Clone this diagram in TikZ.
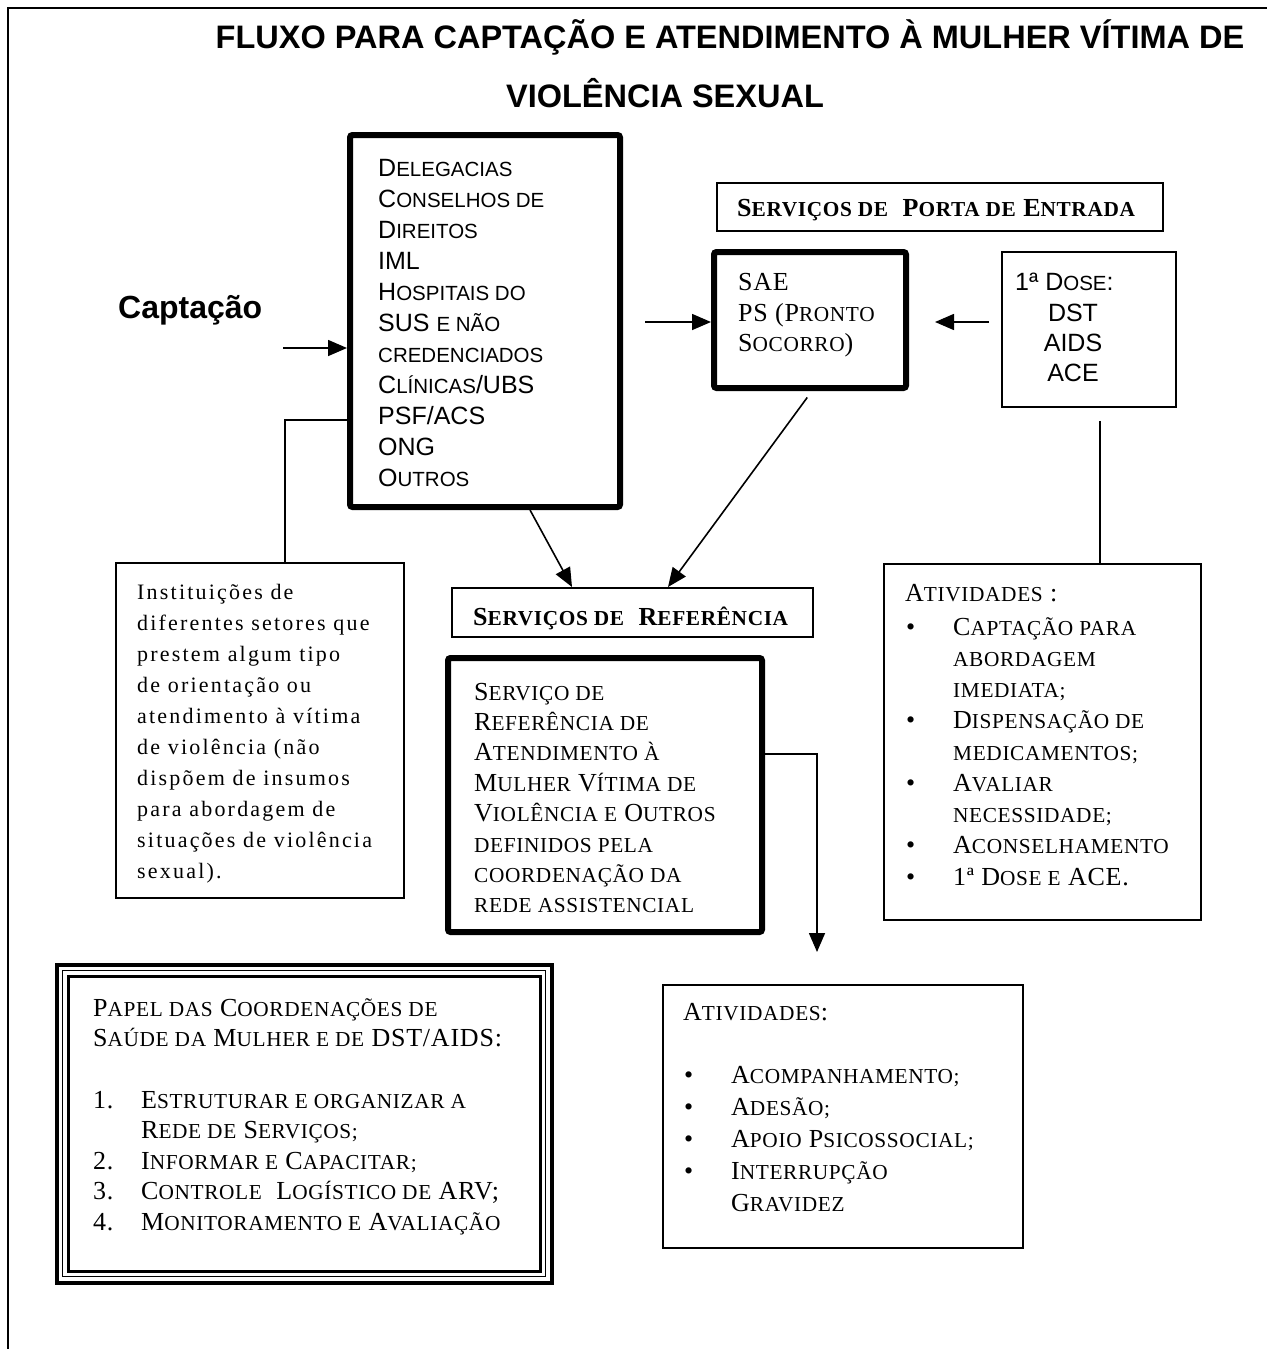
\documentclass[tikz,border=0pt]{standalone}
\usepackage{fontspec}
\setmainfont{Liberation Serif}[LetterSpace=3]
\newfontfamily\arialfont{Liberation Sans}
\newfontfamily\spacedserif[LetterSpace=10]{Liberation Serif}
\usetikzlibrary{arrows.meta}
\makeatletter
\newcommand\smc[1]{{\fontsize{\fpeval{0.82*\f@size}}{\f@baselineskip}\selectfont #1}}
\makeatother
\begin{document}
\begin{tikzpicture}[x=1pt,y=-1pt,
 thinbox/.style={draw,line width=1.8pt,inner sep=0pt,anchor=north west},
 thickbox/.style={draw,line width=6pt,rounded corners=2.5pt,inner sep=0pt,anchor=north west},
 conn/.style={line width=1.6pt},
 arr/.style={line width=1.6pt,-{Triangle[length=19pt,width=16pt]}},
 tx/.style={anchor=base west,inner sep=0pt,font=\fontsize{26}{30}\selectfont},
 txb/.style={anchor=base west,inner sep=0pt,font=\bfseries\fontsize{26}{30}\selectfont},
 sx/.style={anchor=base west,inner sep=0pt,font=\arialfont\fontsize{25}{30}\selectfont},
 sxc/.style={anchor=base,inner sep=0pt,font=\arialfont\fontsize{25}{30}\selectfont},
 hd/.style={anchor=base,inner sep=0pt,font=\arialfont\bfseries\fontsize{32.5}{32.5}\selectfont},
 lt/.style={anchor=base west,inner sep=0pt,font=\spacedserif\fontsize{22}{26}\selectfont},
]
\useasboundingbox (0,0) rectangle (1267,1349);
\fill[white] (0,0) rectangle (1267,1349);
\draw[line width=1.5pt] (8,1349) -- (8,8) -- (1267,8);

% titles
\node[hd] (t1) at (730,48) {FLUXO PARA CAPTAÇÃO E ATENDIMENTO À MULHER VÍTIMA DE};
\node[hd] (t2) at (665,107) {VIOLÊNCIA SEXUAL};
\node[anchor=base west,inner sep=0pt,font=\arialfont\bfseries\fontsize{32}{32}\selectfont] (cap) at (118,318) {Captação};

% boxes
\node[thickbox,minimum width=270pt,minimum height=372pt] (big) at (347,132) {};
\node[thinbox,minimum width=446pt,minimum height=48pt] (porta) at (716,182) {};
\node[thickbox,minimum width=192pt,minimum height=136pt] (sae) at (711,249) {};
\node[thinbox,minimum width=174pt,minimum height=155pt] (dose) at (1001,251) {};
\node[thinbox,minimum width=288pt,minimum height=335pt] (ltext) at (115,562) {};
\node[thinbox,minimum width=361pt,minimum height=49pt] (sref) at (451,587) {};
\node[thickbox,minimum width=314pt,minimum height=274pt] (ref) at (445,655) {};
\node[thinbox,minimum width=317pt,minimum height=356pt] (ativr) at (883,563) {};
\node[thinbox,minimum width=360pt,minimum height=263pt] (ativb) at (662,984) {};
\node[draw,line width=3.5pt,inner sep=0pt,anchor=north west,minimum width=495pt,minimum height=318pt] (papel) at (55,963) {};
\node[draw,line width=1.3pt,inner sep=0pt,minimum width=483pt,minimum height=306pt] (papelb) at (papel.center) {};
\node[draw,line width=2.8pt,inner sep=0pt,minimum width=472pt,minimum height=295pt] (papelc) at (papel.center) {};

% connectors
\coordinate (capin) at (283,348);
\draw[arr] (capin) -- (capin -| big.west);
\coordinate (lk) at (285,420);
\draw[conn] (big.west |- lk) -- (lk) -- (lk |- ltext.north);
\coordinate (b1) at (530,0);
\coordinate (b2) at (572,0);
\draw[arr] (big.south -| b1) -- (sref.north -| b2);
\coordinate (s1) at (812,0);
\coordinate (s2) at (668,0);
\draw[arr,shorten <=8pt] (sae.south -| s1) -- (sref.north -| s2);
\coordinate (sin) at (645,322);
\draw[arr] (sin) -- (sin -| sae.west);
\draw[arr,shorten <=12pt,shorten >=26pt] (dose.west |- sin) -- (sae.east |- sin);
\coordinate (dv) at (1100,0);
\draw[conn,shorten <=13pt] (dose.south -| dv) -- (ativr.north -| dv);
\coordinate (rk) at (817,754);
\draw[arr,shorten >=32pt] (ref.east |- rk) -- (rk) -- (rk |- ativb.north);

% big box text
\foreach \t [count=\i] in {D\smc{ELEGACIAS},C\smc{ONSELHOS DE},D\smc{IREITOS},IML,H\smc{OSPITAIS DO},SUS \smc{E NÃO},\smc{CREDENCIADOS},C\smc{LÍNICAS}/UBS,PSF/ACS,ONG,O\smc{UTROS}}
  \node[sx] (bx\i) at (378,{176+31*(\i-1)}) {\t};

% left text
\foreach \t [count=\i] in {Instituições de,diferentes setores que,prestem algum tipo,de orientação ou,atendimento à vítima,de violência (não,dispõem de insumos,para abordagem de,situações de violência,sexual).}
  \node[lt] (lx\i) at (137,{599+31*(\i-1)}) {\t};

% porta
\node[txb] (portat) at (737,216) {S\smc{ERVIÇOS DE}\ \ P\smc{ORTA DE} E\smc{NTRADA}};

% SAE
\node[tx] (sae1) at (738,290) {SAE};
\node[tx] (sae2) at (738,321) {PS (P\smc{RONTO}};
\node[tx] (sae3) at (738,351) {S\smc{OCORRO})};

% dose
\node[sx] (dose1) at (1015,290) {1ª D\smc{OSE}:};
\node[sxc] (dose2) at (1073,321) {DST};
\node[sxc] (dose3) at (1073,351) {AIDS};
\node[sxc] (dose4) at (1073,381) {ACE};

% servicos de referencia
\node[txb] (sreft) at (473,625) {S\smc{ERVIÇOS DE}\ \ R\smc{EFERÊNCIA}};

% referencia box
\foreach \t [count=\i] in {S\smc{ERVIÇO DE},R\smc{EFERÊNCIA DE},A\smc{TENDIMENTO À},M\smc{ULHER} V\smc{ÍTIMA DE},V\smc{IOLÊNCIA E} O\smc{UTROS},\smc{DEFINIDOS PELA},\smc{COORDENAÇÃO DA},\smc{REDE ASSISTENCIAL}}
  \node[tx] (rx\i) at (474,{700+30.4*(\i-1)}) {\t};

% atividades right
\node[tx] (ar0) at (905,601) {A\smc{TIVIDADES} :};
\foreach \t [count=\i] in {C\smc{APTAÇÃO PARA},\smc{ABORDAGEM},\smc{IMEDIATA;},D\smc{ISPENSAÇÃO DE},\smc{MEDICAMENTOS;},A\smc{VALIAR},\smc{NECESSIDADE;},A\smc{CONSELHAMENTO},1ª D\smc{OSE E} ACE.}
  \node[tx] (ar\i) at (953,{635+31.25*(\i-1)}) {\t};
\foreach \i in {1,4,6,8,9}
  \node[tx] (arb\i) at (906,{635+31.25*(\i-1)}) {•};

% atividades bottom
\node[tx] (ab0) at (683,1020) {A\smc{TIVIDADES}:};
\foreach \t [count=\i] in {A\smc{COMPANHAMENTO;},A\smc{DESÃO;},A\smc{POIO} P\smc{SICOSSOCIAL;},I\smc{NTERRUPÇÃO},G\smc{RAVIDEZ}}
  \node[tx] (ab\i) at (731,{1083+32*(\i-1)}) {\t};
\foreach \i in {1,2,3,4}
  \node[tx] (abb\i) at (684,{1083+32*(\i-1)}) {•};

% papel
\node[tx] (p1) at (93,1016) {P\smc{APEL DAS} C\smc{OORDENAÇÕES DE}};
\node[tx] (p2) at (93,1046) {S\smc{AÚDE DA} M\smc{ULHER E DE} DST/AIDS:};
\foreach \t [count=\i] in {E\smc{STRUTURAR E ORGANIZAR A},R\smc{EDE DE} S\smc{ERVIÇOS;},I\smc{NFORMAR E} C\smc{APACITAR;},C\smc{ONTROLE}\ \ L\smc{OGÍSTICO DE} ARV;,M\smc{ONITORAMENTO E} A\smc{VALIAÇÃO}}
  \node[tx] (pi\i) at (141,{1108+30.5*(\i-1)}) {\t};
\node[tx] (pn1) at (93,1108) {1.};
\node[tx] (pn2) at (93,1169) {2.};
\node[tx] (pn3) at (93,1199.5) {3.};
\node[tx] (pn4) at (93,1230) {4.};
\end{tikzpicture}
\end{document}
